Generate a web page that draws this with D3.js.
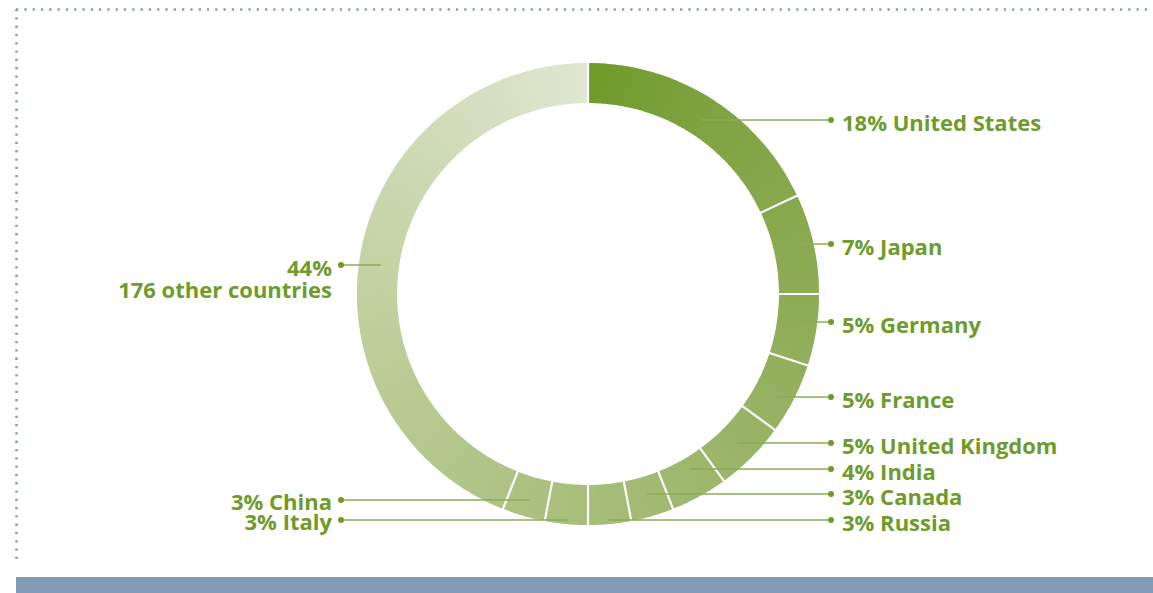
<!DOCTYPE html>
<html>
<head>
<meta charset="utf-8">
<script src="https://cdn.jsdelivr.net/npm/d3@7"></script>
<style>
  html, body { margin: 0; padding: 0; background: #fff; }
  svg { display: block; }
</style>
</head>
<body>
<svg id="chart" width="1153" height="593"></svg>
<script>
// ---- data ----
const countries = ["United States", "Japan", "Germany", "France", "United Kingdom",
  "India", "Canada", "Russia", "Italy", "China", "176 other countries"];
const shares = [18, 7, 5, 5, 5, 4, 3, 3, 3, 3, 44];

// ---- layout (label rows, not data) ----
const labelSide = ["r", "r", "r", "r", "r", "r", "r", "r", "l", "l", "l"];
const labelRowY = [120, 244, 322, 397, 443, 469, 494, 520, 520, 500, 265];

const W = 1153, H = 593;
const cx = 588, cy = 294;
const outerR = 231, innerR = 191;
const textColor = "#6e9b2c";

const svg = d3.select("#chart");

// frame: dotted border + bottom bar
const dotStyle = sel => sel.attr("stroke", "#859cb8").attr("stroke-width", 2.5)
  .attr("stroke-dasharray", "2.3 6");
svg.append("line").attr("x1", 16).attr("x2", W).attr("y1", 9.5).attr("y2", 9.5).call(dotStyle);
svg.append("line").attr("x1", 16.5).attr("x2", 16.5).attr("y1", 9).attr("y2", 564).call(dotStyle);
svg.append("rect").attr("x", 16).attr("y", 577).attr("width", W - 16).attr("height", H - 577)
  .attr("fill", "#849bb5");

const data = countries.map((c, i) => ({ country: c, share: shares[i], side: labelSide[i], y: labelRowY[i] }));

const pie = d3.pie().sort(null).value(d => d.share);
const arcs = pie(data);
const arc = d3.arc().innerRadius(innerR).outerRadius(outerR);

// conic colour ramp
const ramp = d3.scaleLinear()
  .domain(d3.range(11).map(i => i / 10 * 2 * Math.PI))
  .range(["#6f9b29", "#80a443", "#89a94f", "#92af5d", "#9cb66c", "#a7be7a", "#b1c689", "#bccd98", "#c7d5a9", "#d3dcbc", "#e0e7d2"])
  .interpolate(d3.interpolateRgb);

const g = svg.append("g").attr("transform", `translate(${cx},${cy})`);

// ring, drawn as thin sub-arcs for a conic gradient
const step = 0.01;
arcs.forEach(a => {
  const n = Math.max(1, Math.ceil((a.endAngle - a.startAngle) / step));
  const dA = (a.endAngle - a.startAngle) / n;
  for (let k = 0; k < n; k++) {
    const s = a.startAngle + k * dA;
    const e = Math.min(a.endAngle, s + dA + 0.004);
    g.append("path")
      .attr("d", arc({ startAngle: s, endAngle: e }))
      .attr("fill", ramp(s + dA / 2));
  }
});

// white separators between slices
g.selectAll("line.sep").data(arcs).join("line")
  .attr("class", "sep")
  .attr("x1", d => (innerR - 1) * Math.sin(d.startAngle))
  .attr("y1", d => -(innerR - 1) * Math.cos(d.startAngle))
  .attr("x2", d => (outerR + 1) * Math.sin(d.startAngle))
  .attr("y2", d => -(outerR + 1) * Math.cos(d.startAngle))
  .attr("stroke", "#fff").attr("stroke-width", 2.2);

// leader lines + dots + labels
const dotXR = 831, dotXL = 341;
const labels = svg.append("g");
arcs.forEach(a => {
  const d = a.data;
  const c = arc.centroid(a);
  const x0 = cx + c[0];
  const dotX = d.side === "r" ? dotXR : dotXL;
  labels.append("line")
    .attr("x1", x0).attr("x2", dotX).attr("y1", d.y).attr("y2", d.y)
    .attr("stroke", "#8dad56").attr("stroke-width", 1.5);
  labels.append("circle").attr("cx", dotX).attr("cy", d.y).attr("r", 3).attr("fill", textColor);
  const t = labels.append("text")
    .attr("fill", textColor)
    .attr("font-family", "'Open Sans', sans-serif")
    .attr("font-weight", 700)
    .attr("font-size", 22);
  if (d.side === "r") {
    t.attr("x", dotXR + 11).attr("y", d.y + 11).text(`${d.share}% ${d.country}`);
  } else if (d.country.startsWith("176")) {
    t.attr("text-anchor", "end");
    t.append("tspan").attr("x", dotXL - 9).attr("y", d.y + 11).text(`${d.share}%`);
    t.append("tspan").attr("x", dotXL - 9).attr("y", d.y + 33).text(d.country);
  } else {
    t.attr("text-anchor", "end").attr("x", dotXL - 9).attr("y", d.y + 10).text(`${d.share}% ${d.country}`);
  }
});
</script>
</body>
</html>
